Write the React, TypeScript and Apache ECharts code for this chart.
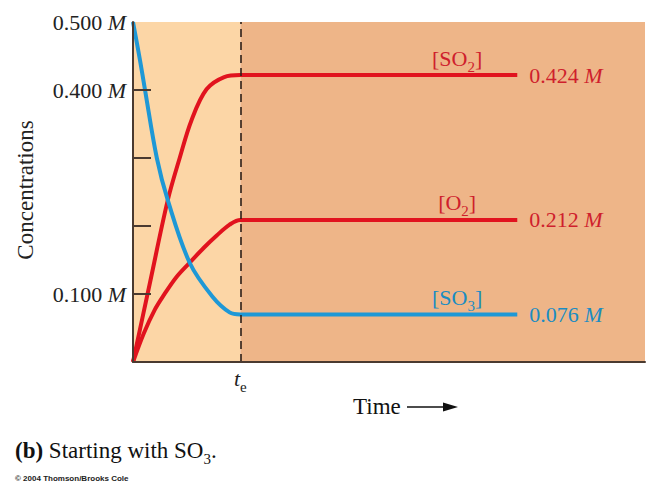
import React, { useEffect, useRef } from "react";
import * as echarts from "echarts";

// ---- data (time in units where t_e = 1) ----
const so3Time = [0, 0.065, 0.111, 0.222, 0.324, 0.528, 0.741, 0.9, 1.0, 1.3, 3.58];
const so3Conc = [0.5, 0.444, 0.401, 0.3, 0.238, 0.146, 0.096, 0.073, 0.07, 0.07, 0.07];

const so2Time = [0, 0.16, 0.324, 0.435, 0.546, 0.685, 0.85, 1.0, 1.3, 3.58];
const so2Conc = [0, 0.118, 0.238, 0.3, 0.356, 0.401, 0.419, 0.422, 0.422, 0.422];

const o2Time = [0, 0.1, 0.2, 0.29, 0.4, 0.528, 0.66, 0.78, 0.9, 1.0, 1.3, 3.58];
const o2Conc = [0, 0.042, 0.076, 0.099, 0.124, 0.146, 0.168, 0.186, 0.202, 0.209, 0.209, 0.209];

const eqLabels = ["0.424", "0.212", "0.076"]; // SO2, O2, SO3
const yLabelValues = [0.1, 0.4, 0.5];
const yTickValues = [0.1, 0.2, 0.3, 0.4];
const tEquilibrium = 1;
const labelTime = 3.02;
const timeMax = 4.77;

const RED = "#E1131E";
const RED_TEXT = "#CF1F2D";
const BLUE = "#1E98D6";
const BLUE_TEXT = "#1A8CC2";
const BROWN = "#4A3A30";
const LIGHT = "#FCD6A6";
const DARK = "#EEB588";
const SERIF = "Liberation Serif, DejaVu Serif, serif";
const FS = 22;

const pairs = (t: number[], v: number[]) => t.map((x, i) => [x, v[i]]);

const plainRich = (color: string) => ({
  n: { fontFamily: SERIF, fontSize: FS, color },
  m: { fontFamily: SERIF, fontSize: FS, color, fontStyle: "italic" },
});

const subRich = (color: string) => ({
  n: { fontFamily: SERIF, fontSize: FS, color },
  s: { fontFamily: SERIF, fontSize: 15, color, verticalAlign: "bottom", padding: [17, 0, 0, 0] },
});

function lineSeries(name: string, data: number[][], color: string, textColor: string, eq: string, sub: string) {
  const last = data[data.length - 1];
  return {
    name,
    type: "line",
    data,
    smooth: 0.35,
    showSymbol: false,
    symbol: "none",
    z: 4,
    lineStyle: { color, width: 4 },
    endLabel: {
      show: true,
      distance: 12,
      formatter: `{n|${eq} }{m|M}`,
      rich: plainRich(textColor),
    },
    markPoint: {
      symbol: "circle",
      symbolSize: 0,
      silent: true,
      data: [
        {
          coord: [labelTime, last[1]],
          label: {
            show: true,
            position: "top",
            distance: 1,
            formatter: `{n|[${name}}{s|${sub}}{n|]}`,
            rich: subRich(textColor),
          },
        },
      ],
    },
  };
}

export default function App() {
  const ref = useRef<HTMLDivElement>(null);
  useEffect(() => {
    if (!ref.current) return;
    const chart = echarts.init(ref.current, null, { renderer: "svg" });
    chart.setOption({
      animation: false,
      backgroundColor: "#ffffff",
      grid: { left: 133, top: 22, right: 0, bottom: 123, containLabel: false },
      xAxis: {
        type: "value",
        min: 0,
        max: timeMax,
        interval: 1,
        z: 6,
        axisLine: { show: true, lineStyle: { color: BROWN, width: 2 } },
        axisTick: { show: false },
        splitLine: { show: false },
        axisLabel: {
          margin: 0,
          formatter: (v: number) => (v === tEquilibrium ? "{t|t}{e|e}" : ""),
          rich: {
            t: { fontFamily: SERIF, fontSize: FS, fontStyle: "italic", color: "#222" },
            e: { fontFamily: SERIF, fontSize: 15, color: "#222", verticalAlign: "bottom", padding: [17, 0, 0, 0] },
          },
        },
      },
      yAxis: {
        type: "value",
        min: 0,
        max: 0.5,
        z: 6,
        axisLine: { show: true, lineStyle: { color: BROWN, width: 2 } },
        axisTick: {
          show: true,
          inside: true,
          length: 18,
          customValues: yTickValues,
          lineStyle: { color: BROWN, width: 2 },
        },
        splitLine: { show: false },
        axisLabel: {
          customValues: yLabelValues,
          margin: 7,
          formatter: (v: number) => `{n|${v.toFixed(3)} }{m|M}`,
          rich: plainRich("#222"),
        },
      },
      graphic: [
        {
          type: "text",
          x: 25,
          y: 190,
          rotation: Math.PI / 2,
          style: {
            text: "Concentrations",
            font: `23px ${SERIF}`,
            fill: "#222",
            align: "center",
            verticalAlign: "middle",
          },
        },
        {
          type: "text",
          x: 353,
          y: 406,
          style: { text: "Time", font: `23px ${SERIF}`, fill: "#111", verticalAlign: "middle" },
        },
        {
          type: "line",
          shape: { x1: 407, y1: 407, x2: 447, y2: 407 },
          style: { stroke: "#111", lineWidth: 1.6 },
        },
        {
          type: "polygon",
          shape: { points: [[443, 402.5], [458, 407], [443, 411.5]] },
          style: { fill: "#111" },
        },
        {
          type: "text",
          x: 15,
          y: 450,
          style: {
            text: "{b|(b)}{n| Starting with SO}{s|3}{n|.}",
            verticalAlign: "middle",
            rich: {
              b: { fontFamily: SERIF, fontSize: 23, fontWeight: "bold", fill: "#111" },
              n: { fontFamily: SERIF, fontSize: 23, fill: "#111" },
              s: { fontFamily: SERIF, fontSize: 15, fill: "#111", verticalAlign: "bottom", padding: [18, 0, 0, 0] },
            },
          },
        },
        {
          type: "text",
          x: 15,
          y: 478,
          style: {
            text: "© 2004 Thomson/Brooks Cole",
            font: "bold 8px Liberation Sans Narrow, Liberation Sans, sans-serif",
            fill: "#222",
            verticalAlign: "middle",
          },
        },
      ],
      series: [
        {
          name: "shade",
          type: "line",
          data: [],
          z: 1,
          silent: true,
          markArea: {
            silent: true,
            data: [
              [{ xAxis: 0, itemStyle: { color: LIGHT } }, { xAxis: tEquilibrium }],
              [{ xAxis: tEquilibrium, itemStyle: { color: DARK } }, { xAxis: timeMax }],
            ],
          },
          markLine: {
            silent: true,
            symbol: "none",
            label: { show: false },
            lineStyle: { color: "#2E2018", width: 1.6, type: [8, 5] },
            data: [{ xAxis: tEquilibrium }],
          },
        },
        lineSeries("SO", pairs(so2Time, so2Conc), RED, RED_TEXT, eqLabels[0], "2"),
        lineSeries("O", pairs(o2Time, o2Conc), RED, RED_TEXT, eqLabels[1], "2"),
        lineSeries("SO", pairs(so3Time, so3Conc), BLUE, BLUE_TEXT, eqLabels[2], "3"),
      ],
    });
    return () => chart.dispose();
  }, []);
  return (
    <div
      ref={ref}
      style={{ position: "fixed", left: 0, top: 0, width: 648, height: 485 }}
    />
  );
}
